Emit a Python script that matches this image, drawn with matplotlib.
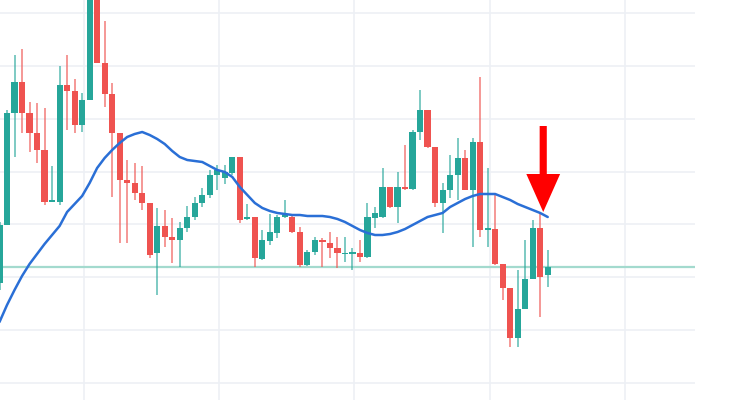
import numpy as np
import matplotlib
matplotlib.use("Agg")
import matplotlib.pyplot as plt
from matplotlib.patches import FancyArrow

# OHLC values (arbitrary price units)
opens = [117, 175, 287, 318, 287, 267, 250, 198, 198, 315, 309, 275, 300, 410, 337, 306,
         267, 220, 217, 207, 197, 147, 174, 163, 160, 172, 183, 197, 205, 225, 222, 227,
         243, 181, 183, 141, 159, 167, 183, 183, 168, 135, 148, 160, 157, 152, 146, 146,
         147, 143, 182, 183, 213, 193, 213, 211, 268, 290, 253, 197, 210, 225, 242, 210,
         258, 170, 171, 136, 112, 62, 91, 121, 172, 125]
highs = [178, 290, 345, 351, 298, 297, 292, 234, 334, 345, 321, 307, 415, 415, 379, 317,
         267, 240, 237, 234, 197, 192, 190, 182, 178, 194, 203, 212, 230, 235, 235, 243,
         243, 196, 183, 170, 186, 185, 200, 185, 173, 150, 163, 162, 168, 163, 163, 152,
         160, 197, 193, 232, 213, 228, 255, 270, 310, 290, 253, 217, 245, 262, 250, 262,
         323, 232, 207, 136, 112, 130, 160, 180, 187, 150]
lows = [110, 175, 243, 267, 248, 237, 195, 198, 195, 270, 267, 268, 300, 337, 293, 203,
        157, 157, 200, 190, 142, 105, 153, 137, 133, 168, 180, 193, 202, 210, 216, 225,
        177, 180, 133, 140, 155, 162, 182, 167, 133, 134, 145, 133, 142, 132, 138, 130,
        138, 142, 172, 182, 192, 177, 210, 210, 260, 252, 193, 167, 202, 200, 210, 153,
        163, 153, 135, 100, 53, 53, 91, 121, 83, 113]
closes = [175, 287, 318, 287, 267, 250, 198, 200, 315, 309, 275, 300, 410, 337, 306, 267,
          220, 217, 207, 197, 145, 174, 163, 160, 172, 183, 197, 205, 225, 230, 228, 243,
          180, 183, 142, 160, 168, 183, 185, 168, 135, 148, 160, 158, 152, 147, 147, 148,
          143, 183, 187, 213, 193, 213, 211, 268, 290, 253, 197, 210, 225, 242, 210, 258,
          170, 172, 136, 112, 62, 91, 121, 172, 123, 133]

# moving average line, read per candle
ma = [78, 95, 110, 124, 136, 146, 156, 165, 174, 188, 196, 204, 217, 232, 242, 250,
      257, 263, 266, 268, 265, 261, 256, 249, 243, 240, 239, 238, 234, 230, 228, 223,
      213, 205, 197, 192, 189, 187, 186, 185, 185, 184, 184, 184, 183, 181, 178, 174,
      170, 167, 165, 165, 166, 168, 171, 175, 179, 183, 185, 187, 193, 197, 201, 204,
      206, 206, 206, 203, 200, 196, 193, 190, 187, 183]

support_level = 133
signal_index = 72.4
signal_top = 274
signal_tip = 188

green = "#26a69a"
red = "#ef5350"

fig = plt.figure(figsize=(7.5, 4), dpi=100)
ax = fig.add_axes([0, 0, 695 / 750, 1])
ax.set_facecolor("white")

x = np.arange(len(opens))
o = np.array(opens, float)
c = np.array(closes, float)
h = np.array(highs, float)
l = np.array(lows, float)
up = c >= o
cols = np.where(up, green, red)

# grid
for gx in [11.2 + 18.02 * k for k in range(5)]:
    ax.axvline(gx, color="#edf0f5", lw=1.2, zorder=0)
for gy in [386.7, 334.3, 281, 228.3, 175.7, 123.3, 70, 17.3]:
    ax.axhline(gy, color="#edf0f5", lw=1.2, zorder=0)

ax.axhline(support_level, color="#a3dace", lw=1.6, zorder=1)

ax.vlines(x, l, h, colors=cols, lw=1.4, alpha=0.6, zorder=2)
bottoms = np.minimum(o, c)
heights = np.maximum(np.abs(c - o), 1.5)
ax.bar(x, heights, bottom=bottoms, width=0.82, color=cols, zorder=3, linewidth=0)

ax.plot(x, ma, color="#2a6fd6", lw=1.8, zorder=4, solid_capstyle="round")

ax.add_patch(FancyArrow(signal_index, signal_top, 0, signal_tip - signal_top,
                        width=0.95, head_width=4.5, head_length=38,
                        length_includes_head=True, color="#ff0000", lw=0, zorder=5))

ax.set_xlim(0.5 / 7.51, 695.5 / 7.51)
ax.set_ylim(0, 400)
ax.axis("off")

fig.savefig("out.png", dpi=100, facecolor="white")
